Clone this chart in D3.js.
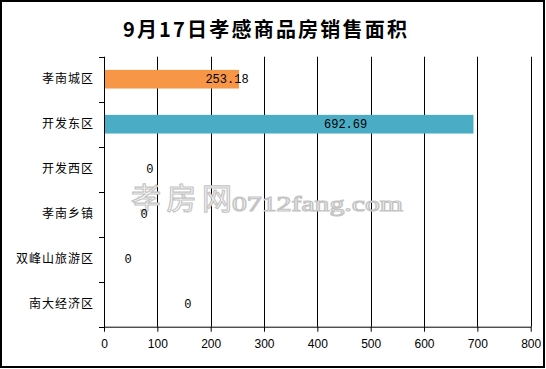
<!DOCTYPE html>
<html><head><meta charset="utf-8">
<script src="https://cdn.jsdelivr.net/npm/d3@7/dist/d3.min.js"></script>
<style>
body{margin:0;background:#fff;}
svg{display:block;}
</style></head>
<body>
<svg id="c" width="546" height="369"></svg>
<script>
const title = "9月17日孝感商品房销售面积";
const categories = ["孝南城区","开发东区","开发西区","孝南乡镇","双峰山旅游区","南大经济区"];
const values = [253.18, 692.69, 0, 0, 0, 0];
const labelTexts = ["253.18","692.69","0","0","0","0"];
const labelAt = [230.6, 453, 86, 75, 45, 157];
const colors = ["#F79646","#4BACC6","#4BACC6","#4BACC6","#4BACC6","#4BACC6"];
const xTicks = [0,100,200,300,400,500,600,700,800];

const svg = d3.select("#c");
const L = 104, R = 530.7, T = 56.7, B = 326.7;
const x = d3.scaleLinear().domain([0,800]).range([L,R]);
const y = d3.scaleBand().domain(categories).range([T,B]).paddingInner(0.585).paddingOuter(0.2925);

// border
svg.append("rect").attr("x",1).attr("y",1).attr("width",543).attr("height",366)
  .attr("fill","#fff").attr("stroke","#000").attr("stroke-width",2);

// title
svg.append("text").attr("x",266).attr("y",37).attr("text-anchor","middle")
  .attr("font-family","'Noto Sans CJK SC'").attr("font-weight","bold").attr("font-size",20)
  .attr("letter-spacing",2.2).attr("fill","#000").text(title);

// gridlines
svg.append("g").selectAll("line").data(xTicks.slice(1)).join("line")
  .attr("x1",d=>Math.round(x(d))+0.5).attr("x2",d=>Math.round(x(d))+0.5)
  .attr("y1",T).attr("y2",B).attr("stroke","#000").attr("stroke-width",1);

// watermark
const wm = svg.append("g").attr("fill","#fff").attr("stroke","#c4c4c4").attr("stroke-width",1.2);
wm.append("text").attr("x",131).attr("y",209).attr("font-family","'Noto Sans CJK SC'")
  .attr("font-size",30).attr("textLength",101).attr("lengthAdjust","spacing").text("孝房网");
wm.append("text").attr("x",232).attr("y",211).attr("font-family","'Liberation Serif'")
  .attr("font-size",22).attr("textLength",171).attr("lengthAdjust","spacingAndGlyphs").text("0712fang.com");

// bars
svg.append("g").selectAll("rect").data(categories).join("rect")
  .attr("x",x(0)).attr("y",d=>y(d)).attr("height",y.bandwidth())
  .attr("width",(d,i)=>x(values[i])-x(0)).attr("fill",(d,i)=>colors[i]);

// x axis
const xa = svg.append("g").attr("transform",`translate(0,${B})`)
  .call(d3.axisBottom(x).tickValues(xTicks).tickSize(5).tickSizeOuter(0));
xa.select(".domain").attr("stroke","#000");
xa.selectAll(".tick line").attr("stroke","#000");
xa.selectAll(".tick text").attr("font-family","'Liberation Sans'").attr("font-size",12)
  .attr("fill","#000").attr("dy","0.71em").attr("y",13);

// y axis
const ya = svg.append("g").attr("transform",`translate(${L},0)`);
ya.append("line").attr("x1",0.5).attr("x2",0.5).attr("y1",T).attr("y2",B+0.5).attr("stroke","#000");
const bounds = d3.range(categories.length+1).map(i=>T + i*y.step());
ya.selectAll("line.t").data(bounds).join("line").attr("class","t")
  .attr("x1",-5).attr("x2",0).attr("y1",d=>Math.round(d)+0.5).attr("y2",d=>Math.round(d)+0.5).attr("stroke","#000");
ya.selectAll("text").data(categories).join("text")
  .attr("x",-10).attr("y",d=>y(d)+y.bandwidth()/2).attr("dy","0.35em")
  .attr("text-anchor","end").attr("font-family","'Noto Sans CJK SC'").attr("font-size",12)
  .attr("letter-spacing",1).attr("fill","#000").text(d=>d);

// data labels
svg.append("g").selectAll("text").data(categories).join("text")
  .attr("x",(d,i)=>x(labelAt[i])).attr("y",d=>y(d)+y.bandwidth()/2).attr("dy","0.35em")
  .attr("text-anchor","middle").attr("font-family","'Liberation Mono'").attr("font-size",12)
  .attr("fill","#000").text((d,i)=>labelTexts[i]);
</script>
</body></html>
